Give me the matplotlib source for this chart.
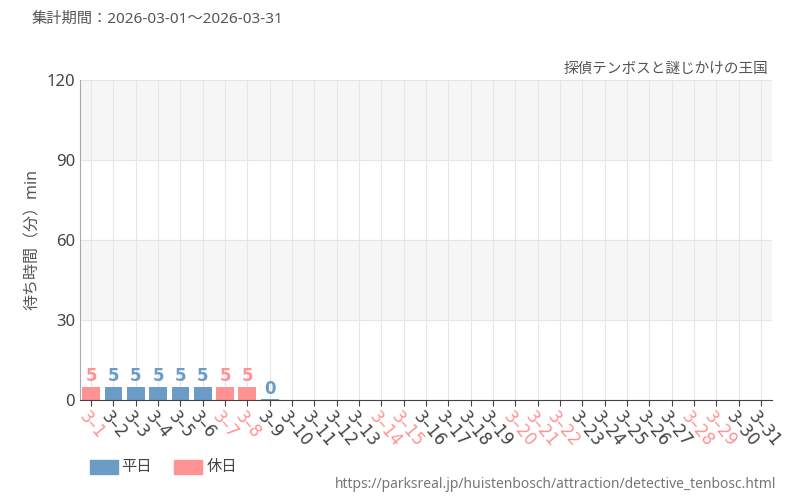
import matplotlib
matplotlib.use("Agg")
import matplotlib.pyplot as plt

plt.rcParams['font.family'] = ['Noto Sans', 'Noto Sans CJK JP', 'DejaVu Sans']

days = [f"3-{d}" for d in range(1, 32)]
holidays = [1, 7, 8, 14, 15, 20, 21, 22, 28, 29]
values = [5, 5, 5, 5, 5, 5, 5, 5, 0]
weekday_c = '#6a9cc5'
holiday_c = '#ff9393'

fig = plt.figure(figsize=(8, 5), dpi=100)
ax = fig.add_axes([0.1, 0.2, 0.865, 0.64])

for lo, hi in [(30, 60), (90, 120)]:
    ax.axhspan(lo, hi, color='#f6f6f6', zorder=0)

for i, v in enumerate(values):
    c = holiday_c if (i + 1) in holidays else weekday_c
    ax.bar(i, v if v > 0 else 0.4, width=0.8, color=c, zorder=2)
    ax.text(i, v + 0.8, str(v), ha='center', va='bottom', color=c, fontsize=12,
            family='DejaVu Sans', fontweight='bold', zorder=3)

ax.set_xlim(-0.5, len(days) - 0.5)
ax.set_ylim(0, 120)
ax.set_yticks([0, 30, 60, 90, 120])
ax.set_xticks(range(len(days)))
ax.set_xticklabels([])
for i, d in enumerate(days):
    ax.text(i - 0.1, -3, d.replace('-', '\u2013'), rotation=-50, ha='left', va='top',
            rotation_mode='anchor', fontsize=12, family='DejaVu Sans',
            color=holiday_c if (i + 1) in holidays else '#444444')
ax.tick_params(axis='y', labelsize=12, colors='#444444', length=0)
ax.tick_params(axis='x', length=4, color='#444444')
ax.grid(True, color='#e6e6e6', linewidth=0.8, zorder=1)
for s in ['top', 'right']:
    ax.spines[s].set_visible(False)
ax.spines['left'].set_color('#aaaaaa')
ax.spines['bottom'].set_color('#444444')
ax.set_ylabel('待ち時間（分）min', color='#555555', fontsize=11.5)

fig.text(0.04, 0.955, '集計期間：2026-03-01～2026-03-31', fontsize=11, color='#555555')
fig.text(0.96, 0.855, '探偵テンボスと謎じかけの王国', fontsize=10.5, color='#555555', ha='right')
fig.text(0.97, 0.025, 'https://parksreal.jp/huistenbosch/attraction/detective_tenbosc.html',
         fontsize=10, color='#777777', ha='right')

fig.patches.append(plt.Rectangle((0.112, 0.052), 0.035, 0.028, color=weekday_c, transform=fig.transFigure))
fig.text(0.152, 0.066, '平日', fontsize=11, color='#444444', va='center')
fig.patches.append(plt.Rectangle((0.218, 0.052), 0.035, 0.028, color=holiday_c, transform=fig.transFigure))
fig.text(0.258, 0.066, '休日', fontsize=11, color='#444444', va='center')

fig.savefig('out.png')
